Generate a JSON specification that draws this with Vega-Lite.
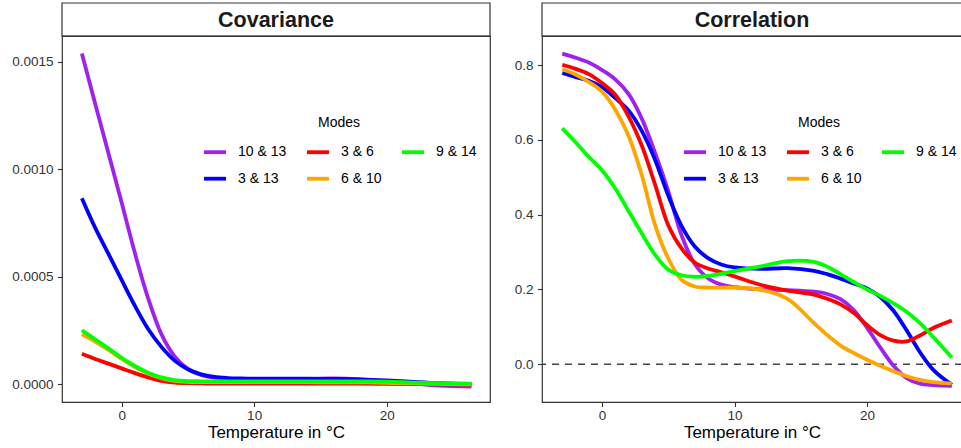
{
  "$schema": "https://vega.github.io/schema/vega-lite/v6.json",
  "background": "white",
  "padding": {"left": 11, "top": 2, "right": 0, "bottom": 0},
  "autosize": {"type": "pad"},
  "datasets": {
    "cov": [
      {"m":"10 & 13","t":-3,"v":0.001538},{"m":"10 & 13","t":-2,"v":0.001305},{"m":"10 & 13","t":-1,"v":0.001075},{"m":"10 & 13","t":0,"v":0.000845},{"m":"10 & 13","t":1,"v":0.00061},{"m":"10 & 13","t":2,"v":0.0004},{"m":"10 & 13","t":3,"v":0.000233},{"m":"10 & 13","t":4,"v":0.00013},{"m":"10 & 13","t":5,"v":0.000072},{"m":"10 & 13","t":6,"v":0.000044},{"m":"10 & 13","t":7,"v":0.000031},{"m":"10 & 13","t":8,"v":0.000026},{"m":"10 & 13","t":9,"v":0.000024},{"m":"10 & 13","t":10,"v":0.000023},{"m":"10 & 13","t":12,"v":0.000023},{"m":"10 & 13","t":14,"v":0.000024},{"m":"10 & 13","t":16,"v":0.000027},{"m":"10 & 13","t":18,"v":0.000023},{"m":"10 & 13","t":20,"v":0.000013},{"m":"10 & 13","t":22,"v":0.000003},{"m":"10 & 13","t":24,"v":-0.000006},{"m":"10 & 13","t":26.4,"v":-0.000011},
      {"m":"3 & 13","t":-3,"v":0.000865},{"m":"3 & 13","t":-2,"v":0.000728},{"m":"3 & 13","t":-1,"v":0.000607},{"m":"3 & 13","t":0,"v":0.000485},{"m":"3 & 13","t":1,"v":0.000365},{"m":"3 & 13","t":2,"v":0.000257},{"m":"3 & 13","t":3,"v":0.000174},{"m":"3 & 13","t":4,"v":0.00011},{"m":"3 & 13","t":5,"v":0.00007},{"m":"3 & 13","t":6,"v":0.000046},{"m":"3 & 13","t":7,"v":0.000034},{"m":"3 & 13","t":8,"v":0.000029},{"m":"3 & 13","t":9,"v":0.000027},{"m":"3 & 13","t":10,"v":0.000026},{"m":"3 & 13","t":12,"v":0.000026},{"m":"3 & 13","t":14,"v":0.000026},{"m":"3 & 13","t":16,"v":0.000025},{"m":"3 & 13","t":18,"v":0.000023},{"m":"3 & 13","t":20,"v":0.000018},{"m":"3 & 13","t":22,"v":0.000011},{"m":"3 & 13","t":24,"v":0.000005},{"m":"3 & 13","t":26.4,"v":0.000001},
      {"m":"3 & 6","t":-3,"v":0.000142},{"m":"3 & 6","t":-2,"v":0.000118},{"m":"3 & 6","t":-1,"v":0.000096},{"m":"3 & 6","t":0,"v":0.000074},{"m":"3 & 6","t":1,"v":0.000052},{"m":"3 & 6","t":2,"v":0.000032},{"m":"3 & 6","t":3,"v":0.000016},{"m":"3 & 6","t":4,"v":0.000008},{"m":"3 & 6","t":5,"v":0.000005},{"m":"3 & 6","t":6,"v":0.000004},{"m":"3 & 6","t":7,"v":0.000003},{"m":"3 & 6","t":8,"v":0.000003},{"m":"3 & 6","t":9,"v":0.000003},{"m":"3 & 6","t":10,"v":0.000003},{"m":"3 & 6","t":12,"v":0.000003},{"m":"3 & 6","t":14,"v":0.000003},{"m":"3 & 6","t":16,"v":0.000003},{"m":"3 & 6","t":18,"v":0.000003},{"m":"3 & 6","t":20,"v":0.000002},{"m":"3 & 6","t":22,"v":0.000001},{"m":"3 & 6","t":24,"v":0.0},{"m":"3 & 6","t":26.4,"v":-0.000001},
      {"m":"6 & 10","t":-3,"v":0.000233},{"m":"6 & 10","t":-2,"v":0.000198},{"m":"6 & 10","t":-1,"v":0.00016},{"m":"6 & 10","t":0,"v":0.000118},{"m":"6 & 10","t":1,"v":0.00008},{"m":"6 & 10","t":2,"v":0.00005},{"m":"6 & 10","t":3,"v":0.000029},{"m":"6 & 10","t":4,"v":0.000016},{"m":"6 & 10","t":5,"v":0.000011},{"m":"6 & 10","t":6,"v":0.00001},{"m":"6 & 10","t":7,"v":0.00001},{"m":"6 & 10","t":8,"v":0.00001},{"m":"6 & 10","t":9,"v":0.00001},{"m":"6 & 10","t":10,"v":0.00001},{"m":"6 & 10","t":12,"v":0.00001},{"m":"6 & 10","t":14,"v":0.00001},{"m":"6 & 10","t":16,"v":0.000009},{"m":"6 & 10","t":18,"v":0.000009},{"m":"6 & 10","t":20,"v":0.000007},{"m":"6 & 10","t":22,"v":0.000004},{"m":"6 & 10","t":24,"v":0.000002},{"m":"6 & 10","t":26.4,"v":0.0},
      {"m":"9 & 14","t":-3,"v":0.000251},{"m":"9 & 14","t":-2,"v":0.000209},{"m":"9 & 14","t":-1,"v":0.000167},{"m":"9 & 14","t":0,"v":0.000123},{"m":"9 & 14","t":1,"v":0.000085},{"m":"9 & 14","t":2,"v":0.000054},{"m":"9 & 14","t":3,"v":0.000032},{"m":"9 & 14","t":4,"v":0.000019},{"m":"9 & 14","t":5,"v":0.000015},{"m":"9 & 14","t":6,"v":0.000014},{"m":"9 & 14","t":7,"v":0.000014},{"m":"9 & 14","t":8,"v":0.000014},{"m":"9 & 14","t":9,"v":0.000014},{"m":"9 & 14","t":10,"v":0.000014},{"m":"9 & 14","t":12,"v":0.000014},{"m":"9 & 14","t":14,"v":0.000014},{"m":"9 & 14","t":16,"v":0.000014},{"m":"9 & 14","t":18,"v":0.000014},{"m":"9 & 14","t":20,"v":0.000012},{"m":"9 & 14","t":22,"v":0.000008},{"m":"9 & 14","t":24,"v":0.000005},{"m":"9 & 14","t":26.4,"v":0.000003}
    ],
    "cor": [
      {"m":"10 & 13","t":-3,"v":0.831},{"m":"10 & 13","t":-2,"v":0.82},{"m":"10 & 13","t":-1,"v":0.807},{"m":"10 & 13","t":0,"v":0.787},{"m":"10 & 13","t":1,"v":0.762},{"m":"10 & 13","t":2,"v":0.723},{"m":"10 & 13","t":3,"v":0.657},{"m":"10 & 13","t":4,"v":0.566},{"m":"10 & 13","t":5,"v":0.463},{"m":"10 & 13","t":6,"v":0.345},{"m":"10 & 13","t":7,"v":0.268},{"m":"10 & 13","t":8,"v":0.23},{"m":"10 & 13","t":9,"v":0.213},{"m":"10 & 13","t":10,"v":0.206},{"m":"10 & 13","t":12,"v":0.2},{"m":"10 & 13","t":14,"v":0.198},{"m":"10 & 13","t":16,"v":0.194},{"m":"10 & 13","t":17,"v":0.188},{"m":"10 & 13","t":18,"v":0.174},{"m":"10 & 13","t":19,"v":0.145},{"m":"10 & 13","t":20,"v":0.098},{"m":"10 & 13","t":21,"v":0.045},{"m":"10 & 13","t":22,"v":-0.004},{"m":"10 & 13","t":23,"v":-0.037},{"m":"10 & 13","t":24,"v":-0.052},{"m":"10 & 13","t":25,"v":-0.056},{"m":"10 & 13","t":26.4,"v":-0.058},
      {"m":"3 & 13","t":-3,"v":0.779},{"m":"3 & 13","t":-2,"v":0.768},{"m":"3 & 13","t":-1,"v":0.758},{"m":"3 & 13","t":0,"v":0.741},{"m":"3 & 13","t":1,"v":0.712},{"m":"3 & 13","t":2,"v":0.679},{"m":"3 & 13","t":3,"v":0.624},{"m":"3 & 13","t":4,"v":0.547},{"m":"3 & 13","t":5,"v":0.451},{"m":"3 & 13","t":6,"v":0.37},{"m":"3 & 13","t":7,"v":0.315},{"m":"3 & 13","t":8,"v":0.284},{"m":"3 & 13","t":9,"v":0.267},{"m":"3 & 13","t":10,"v":0.259},{"m":"3 & 13","t":12,"v":0.255},{"m":"3 & 13","t":14,"v":0.257},{"m":"3 & 13","t":16,"v":0.25},{"m":"3 & 13","t":17,"v":0.241},{"m":"3 & 13","t":18,"v":0.229},{"m":"3 & 13","t":19,"v":0.216},{"m":"3 & 13","t":20,"v":0.203},{"m":"3 & 13","t":21,"v":0.18},{"m":"3 & 13","t":22,"v":0.143},{"m":"3 & 13","t":23,"v":0.09},{"m":"3 & 13","t":24,"v":0.032},{"m":"3 & 13","t":25,"v":-0.015},{"m":"3 & 13","t":26.4,"v":-0.055},
      {"m":"3 & 6","t":-3,"v":0.801},{"m":"3 & 6","t":-2,"v":0.79},{"m":"3 & 6","t":-1,"v":0.776},{"m":"3 & 6","t":0,"v":0.752},{"m":"3 & 6","t":1,"v":0.721},{"m":"3 & 6","t":2,"v":0.663},{"m":"3 & 6","t":3,"v":0.585},{"m":"3 & 6","t":4,"v":0.481},{"m":"3 & 6","t":5,"v":0.372},{"m":"3 & 6","t":6,"v":0.31},{"m":"3 & 6","t":7,"v":0.272},{"m":"3 & 6","t":8,"v":0.256},{"m":"3 & 6","t":9,"v":0.246},{"m":"3 & 6","t":10,"v":0.235},{"m":"3 & 6","t":12,"v":0.212},{"m":"3 & 6","t":14,"v":0.197},{"m":"3 & 6","t":16,"v":0.186},{"m":"3 & 6","t":17,"v":0.175},{"m":"3 & 6","t":18,"v":0.16},{"m":"3 & 6","t":19,"v":0.137},{"m":"3 & 6","t":20,"v":0.105},{"m":"3 & 6","t":21,"v":0.078},{"m":"3 & 6","t":22,"v":0.063},{"m":"3 & 6","t":23,"v":0.061},{"m":"3 & 6","t":24,"v":0.077},{"m":"3 & 6","t":25,"v":0.097},{"m":"3 & 6","t":26.4,"v":0.117},
      {"m":"6 & 10","t":-3,"v":0.789},{"m":"6 & 10","t":-2,"v":0.775},{"m":"6 & 10","t":-1,"v":0.755},{"m":"6 & 10","t":0,"v":0.729},{"m":"6 & 10","t":1,"v":0.681},{"m":"6 & 10","t":2,"v":0.611},{"m":"6 & 10","t":3,"v":0.506},{"m":"6 & 10","t":4,"v":0.373},{"m":"6 & 10","t":5,"v":0.283},{"m":"6 & 10","t":6,"v":0.226},{"m":"6 & 10","t":7,"v":0.208},{"m":"6 & 10","t":8,"v":0.205},{"m":"6 & 10","t":9,"v":0.205},{"m":"6 & 10","t":10,"v":0.205},{"m":"6 & 10","t":12,"v":0.199},{"m":"6 & 10","t":14,"v":0.175},{"m":"6 & 10","t":16,"v":0.11},{"m":"6 & 10","t":17,"v":0.078},{"m":"6 & 10","t":18,"v":0.05},{"m":"6 & 10","t":19,"v":0.03},{"m":"6 & 10","t":20,"v":0.012},{"m":"6 & 10","t":21,"v":-0.004},{"m":"6 & 10","t":22,"v":-0.019},{"m":"6 & 10","t":23,"v":-0.032},{"m":"6 & 10","t":24,"v":-0.042},{"m":"6 & 10","t":25,"v":-0.048},{"m":"6 & 10","t":26.4,"v":-0.052},
      {"m":"9 & 14","t":-3,"v":0.631},{"m":"9 & 14","t":-2,"v":0.594},{"m":"9 & 14","t":-1,"v":0.555},{"m":"9 & 14","t":0,"v":0.519},{"m":"9 & 14","t":1,"v":0.47},{"m":"9 & 14","t":2,"v":0.41},{"m":"9 & 14","t":3,"v":0.35},{"m":"9 & 14","t":4,"v":0.293},{"m":"9 & 14","t":5,"v":0.253},{"m":"9 & 14","t":6,"v":0.238},{"m":"9 & 14","t":7,"v":0.234},{"m":"9 & 14","t":8,"v":0.236},{"m":"9 & 14","t":9,"v":0.242},{"m":"9 & 14","t":10,"v":0.249},{"m":"9 & 14","t":12,"v":0.262},{"m":"9 & 14","t":14,"v":0.276},{"m":"9 & 14","t":16,"v":0.274},{"m":"9 & 14","t":17,"v":0.261},{"m":"9 & 14","t":18,"v":0.241},{"m":"9 & 14","t":19,"v":0.22},{"m":"9 & 14","t":20,"v":0.2},{"m":"9 & 14","t":21,"v":0.183},{"m":"9 & 14","t":22,"v":0.163},{"m":"9 & 14","t":23,"v":0.14},{"m":"9 & 14","t":24,"v":0.11},{"m":"9 & 14","t":25,"v":0.073},{"m":"9 & 14","t":26.4,"v":0.018}
    ],
    "zero": [{"y": 0}]
  },
  "spacing": 22,
  "resolve": {"scale": {"color": "independent", "x": "independent", "y": "independent"}, "legend": {"color": "independent"}},
  "hconcat": [
    {
      "spacing": 0,
      "bounds": "flush",
      "resolve": {"scale": {"color": "independent"}, "legend": {"color": "independent"}},
      "vconcat": [
        {
          "data": {"values": [{"s": "Covariance"}]},
          "width": 428, "height": 33,
          "view": {"stroke": null},
          "layer": [
            {"mark": {"type": "rect", "fill": "white", "stroke": "#333333", "strokeWidth": 1.2}, "encoding": {}},
            {"mark": {"type": "text", "fontSize": 21.5, "fontWeight": "bold", "color": "#1A1A1A", "dy": 1}, "encoding": {"text": {"field": "s", "type": "nominal"}}}
          ]
        },
        {
          "data": {"name": "cov"},
          "width": 428, "height": 366,
          "mark": {"type": "line", "strokeWidth": 3.8, "interpolate": "catmull-rom"},
          "encoding": {
            "x": {"field": "t", "type": "quantitative", "scale": {"domain": [-4.5, 27.8], "nice": false, "zero": false}, "axis": {"values": [0, 10, 20], "title": "Temperature in °C", "labelPadding": 1.5}},
            "y": {"field": "v", "type": "quantitative", "scale": {"domain": [-0.0000823, 0.001619], "nice": false, "zero": false}, "axis": {"values": [0, 0.0005, 0.001, 0.0015], "format": ".4f", "title": null}},
            "color": {"field": "m", "type": "nominal", "title": "Modes", "scale": {"domain": ["10 & 13", "3 & 6", "9 & 14", "3 & 13", "6 & 10"], "range": ["#A020F0", "#FF0000", "#00FF00", "#0000FF", "#FFA500"]}}
          }
        }
      ]
    },
    {
      "spacing": 0,
      "bounds": "flush",
      "resolve": {"scale": {"color": "independent"}, "legend": {"color": "independent"}},
      "vconcat": [
        {
          "data": {"values": [{"s": "Correlation"}]},
          "width": 420, "height": 33,
          "view": {"stroke": null},
          "layer": [
            {"mark": {"type": "rect", "fill": "white", "stroke": "#333333", "strokeWidth": 1.2}, "encoding": {}},
            {"mark": {"type": "text", "fontSize": 21.5, "fontWeight": "bold", "color": "#1A1A1A", "dy": 1}, "encoding": {"text": {"field": "s", "type": "nominal"}}}
          ]
        },
        {
          "width": 420, "height": 366,
          "layer": [
            {
              "data": {"name": "zero"},
              "mark": {"type": "rule", "strokeDash": [7, 6], "strokeWidth": 1.3, "color": "#444444"},
              "encoding": {"y": {"field": "y", "type": "quantitative"}}
            },
            {
              "data": {"name": "cor"},
              "mark": {"type": "line", "strokeWidth": 3.8, "interpolate": "catmull-rom"},
              "encoding": {
                "x": {"field": "t", "type": "quantitative", "scale": {"domain": [-4.53, 27.17], "nice": false, "zero": false}, "axis": {"values": [0, 10, 20], "title": "Temperature in °C", "labelPadding": 1.5}},
                "y": {"field": "v", "type": "quantitative", "scale": {"domain": [-0.101, 0.878], "nice": false, "zero": false}, "axis": {"values": [0, 0.2, 0.4, 0.6, 0.8], "format": ".1f", "title": null}},
                "color": {"field": "m", "type": "nominal", "title": "Modes", "scale": {"domain": ["10 & 13", "3 & 6", "9 & 14", "3 & 13", "6 & 10"], "range": ["#A020F0", "#FF0000", "#00FF00", "#0000FF", "#FFA500"]}}
              }
            }
          ]
        }
      ]
    }
  ],
  "config": {
    "font": "Liberation Sans",
    "view": {"stroke": "#333333", "strokeWidth": 1.2},
    "axis": {"grid": false, "domain": false, "tickColor": "#333333", "tickSize": 4.5, "tickWidth": 1.1, "labelFontSize": 13.5, "labelColor": "#333333", "labelPadding": 4.5, "titleFontSize": 17, "titleFontWeight": "normal", "titleColor": "#000000", "titlePadding": 3},
    "legend": {"orient": "none", "legendX": 140, "legendY": 80, "direction": "horizontal", "columns": 3, "symbolType": "stroke", "symbolSize": 484, "symbolStrokeWidth": 3.8, "labelFontSize": 14, "labelColor": "#000000", "labelOffset": 10, "columnPadding": 12, "rowPadding": 5.7, "gridAlign": "each", "titleFontSize": 14, "titleFontWeight": "normal", "titleColor": "#000000", "titleAnchor": "middle", "titlePadding": 9, "padding": 0}
  }
}
